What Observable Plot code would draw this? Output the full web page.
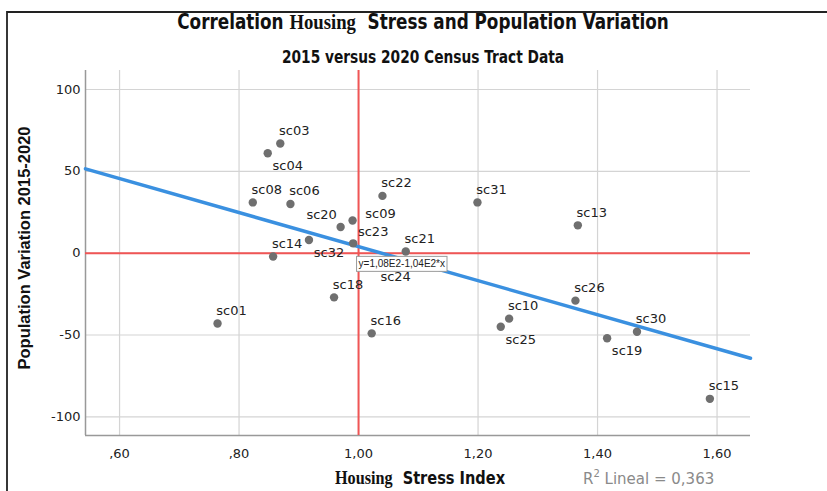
<!DOCTYPE html>
<html><head><meta charset="utf-8">
<script src="https://cdn.jsdelivr.net/npm/d3@7"></script>
<script src="https://cdn.jsdelivr.net/npm/@observablehq/plot@0.6"></script>
<style>body{margin:0;background:#fff} #chart{width:827px;height:491px}</style>
</head><body><div id="chart"></div>
<script>
// ---- data ----
const tracts       = ["sc01","sc03","sc04","sc06","sc08","sc09","sc10","sc13","sc14","sc15","sc16","sc18","sc19","sc20","sc21","sc22","sc23","sc24","sc25","sc26","sc30","sc31","sc32"];
const stressIndex  = [0.764, 0.869, 0.848, 0.886, 0.823, 0.990, 1.252, 1.367, 0.857, 1.588, 1.022, 0.959, 1.416, 0.970, 1.079, 1.040, 0.991, 1.037, 1.238, 1.363, 1.466, 1.199, 0.917];
const popVariation = [-43, 67, 61, 30, 31, 20, -40, 17, -2, -89, -49, -27, -52, 16, 1, 35, 6, -5, -45, -29, -48, 31, 8];
const xTicks = [0.6, 0.8, 1.0, 1.2, 1.4, 1.6];
const yTicks = [-100, -50, 0, 50, 100];
const refX = 1.0, refY = 0;
const fitIntercept = 108, fitSlope = -104;
const fitLabel = "y=1,08E2-1,04E2*x";
const r2Value = "0,363";

// label placement classes (style only)
const labelBelowRight = ["sc04","sc19","sc25","sc32"];
const labelBelowBox = ["sc24"];
const labelAboveLeft = ["sc20"];
const labelRight = ["sc09"];
const labelAboveRightWide = ["sc23"];

const xDomain = [0.543, 1.656];
const yDomain = [-111.4, 111.6];

const points = tracts.map((name, i) => ({name, x: stressIndex[i], y: popVariation[i]}));
const fitLine = xDomain.map(x => ({x, y: fitIntercept + fitSlope * x}));
const inList = l => d => l.includes(d.name);
const special = [...labelBelowRight, ...labelBelowBox, ...labelAboveLeft, ...labelRight, ...labelAboveRightWide];
const other = d => !special.includes(d.name);
const fmtX = v => d3.format(".2f")(v).replace(".", ",").replace(/^0/, "");

const red = "#f05555", blue = "#3a90e0", grid = "#d4d4d4", dotColor = "#6f6f6f";
const labelFont = {fontSize: 13, fill: "#222"};

const chart = Plot.plot({
  width: 827, height: 491,
  marginLeft: 85, marginRight: 77, marginTop: 70, marginBottom: 56,
  style: {fontFamily: "DejaVu Sans", fontSize: "13px", color: "#222", background: "white"},
  x: {domain: xDomain},
  y: {domain: yDomain},
  marks: [
    Plot.gridX(xTicks, {stroke: grid, strokeOpacity: 1, strokeWidth: 1.2}),
    Plot.gridY(yTicks, {stroke: grid, strokeOpacity: 1, strokeWidth: 1.2}),
    Plot.ruleX([xDomain[0]], {stroke: "#999", strokeWidth: 1.5}),
    Plot.ruleY([yDomain[0]], {stroke: "#999", strokeWidth: 1.5}),
    Plot.ruleX([refX], {stroke: red, strokeWidth: 2}),
    Plot.ruleY([refY], {stroke: red, strokeWidth: 2}),
    Plot.line(fitLine, {x: "x", y: "y", stroke: blue, strokeWidth: 3.5}),
    Plot.dot(points, {x: "x", y: "y", r: 4.2, fill: dotColor}),
    Plot.text(points, {filter: other, x: "x", y: "y", text: "name", dx: 14, dy: -13, ...labelFont}),
    Plot.text(points, {filter: inList(labelBelowRight), x: "x", y: "y", text: "name", dx: 20, dy: 13, ...labelFont}),
    Plot.text(points, {filter: inList(labelBelowBox), x: "x", y: "y", text: "name", dx: 15, dy: 15, ...labelFont}),
    Plot.text(points, {filter: inList(labelAboveLeft), x: "x", y: "y", text: "name", dx: -19, dy: -12, ...labelFont}),
    Plot.text(points, {filter: inList(labelRight), x: "x", y: "y", text: "name", dx: 28, dy: -7, ...labelFont}),
    Plot.text(points, {filter: inList(labelAboveRightWide), x: "x", y: "y", text: "name", dx: 20, dy: -12, ...labelFont}),
    Plot.text([{x: refX, y: refY, t: fitLabel}], {x: "x", y: "y", text: "t", dx: 0, dy: 11, textAnchor: "start", fontSize: 10, fontFamily: "'Liberation Sans', sans-serif", fill: "#222"}),
    Plot.axisX(xTicks, {tickSize: 0, tickPadding: 13, tickFormat: fmtX, label: null, fontSize: 13}),
    Plot.axisY(yTicks, {tickSize: 0, tickPadding: 5, tickFormat: d => d3.format("d")(d).replace("−","-"), label: null, fontSize: 13})
  ]
});
document.getElementById("chart").appendChild(chart);

const svg = d3.select(chart);
// box behind the equation label
svg.selectAll("text").filter(function(){ return this.textContent === fitLabel; }).each(function(){
  const b = this.getBBox();
  const rect = d3.select(this.parentNode).insert("rect", () => this)
    .attr("x", b.x - 2).attr("y", b.y - 2).attr("width", b.width + 4).attr("height", b.height + 4)
    .attr("fill", "white").attr("stroke", "#9a9a9a").attr("stroke-width", 1);
  const tr = this.getAttribute("transform");
  if (tr) rect.attr("transform", tr);
});

const narrow = "'Liberation Sans Narrow', 'DejaVu Sans Condensed', sans-serif";
const serif = "'Liberation Serif', 'DejaVu Serif', serif";
// outer frame
svg.append("path").attr("d", "M7,491V12H827").attr("fill", "none").attr("stroke", "#222").attr("stroke-width", 1.8);
// title (condensed look)
const t = svg.append("text").attr("transform", "translate(423,29) scale(0.85,1)").attr("text-anchor", "middle")
  .attr("font-weight", "bold").attr("font-size", 22).attr("fill", "#111");
t.append("tspan").attr("font-family", narrow).text("Correlation ");
t.append("tspan").attr("font-family", serif).text("Housing");
t.append("tspan").attr("font-family", narrow).text("  Stress and Population Variation");
// subtitle
svg.append("text").attr("transform", "translate(423,63) scale(0.9,1)").attr("text-anchor", "middle")
  .attr("font-family", narrow).attr("font-weight", "bold").attr("font-size", 17).attr("fill", "#111")
  .text("2015 versus 2020 Census Tract Data");
// x label
const xl = svg.append("text").attr("transform", "translate(420,484) scale(0.9,1)").attr("text-anchor", "middle")
  .attr("font-weight", "bold").attr("font-size", 18).attr("fill", "#111");
xl.append("tspan").attr("font-family", serif).text("Housing");
xl.append("tspan").attr("font-family", narrow).text("  Stress Index");
// R2
const r2 = svg.append("text").attr("x", 583).attr("y", 484).attr("text-anchor", "start").attr("font-family", "DejaVu Sans")
  .attr("font-size", 15).attr("fill", "#8a8a8a");
r2.append("tspan").text("R");
r2.append("tspan").attr("font-size", 10).attr("dy", -7).text("2");
r2.append("tspan").attr("dy", 7).text(" Lineal = " + r2Value);
// y label
svg.append("text").attr("transform", "translate(30,248) rotate(-90)").attr("text-anchor", "middle")
  .attr("font-family", "'Liberation Sans', sans-serif").attr("font-weight", "bold").attr("font-size", 16.5).attr("fill", "#111")
  .text("Population Variation 2015-2020");
</script></body></html>
